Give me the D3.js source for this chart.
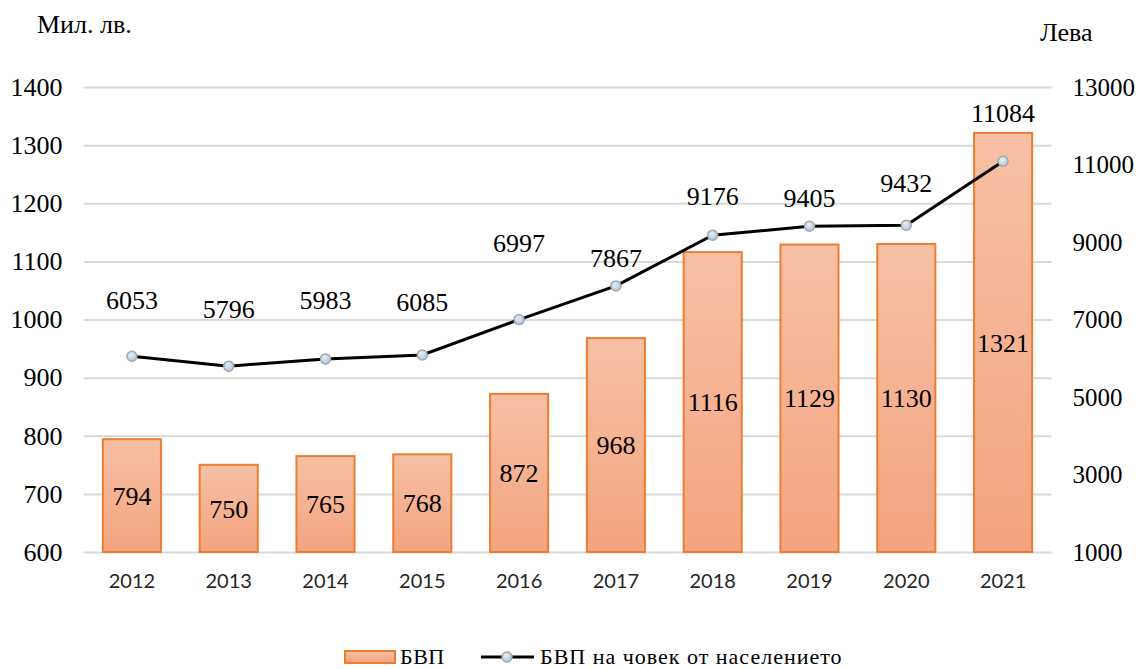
<!DOCTYPE html>
<html>
<head>
<meta charset="utf-8">
<script src="https://cdn.jsdelivr.net/npm/d3@7"></script>
<style>
  body { margin: 0; background: #fff; }
  svg { display: block; }
</style>
</head>
<body>
<div id="chart"></div>
<script>
const years = ["2012", "2013", "2014", "2015", "2016", "2017", "2018", "2019", "2020", "2021"];
const gdp = [794, 750, 765, 768, 872, 968, 1116, 1129, 1130, 1321];
const gdpPerCapita = [6053, 5796, 5983, 6085, 6997, 7867, 9176, 9405, 9432, 11084];
const leftTicks = [600, 700, 800, 900, 1000, 1100, 1200, 1300, 1400];
const rightTicks = [1000, 3000, 5000, 7000, 9000, 11000, 13000];
// manual lift of the line labels, like in the original
const labelLift = [56, 57, 59, 53, 77, 28, 39, 28, 42, 48];

const W = 1145, H = 669;
const plotL = 83.5, plotR = 1051.5, plotT = 87, plotB = 552;
const serif = "'Liberation Serif', 'Times New Roman', serif";

const svg = d3.select("#chart").append("svg")
    .attr("width", W)
    .attr("height", H);

const defs = svg.append("defs");
const grad = defs.append("linearGradient")
    .attr("id", "barGrad")
    .attr("x1", 0).attr("y1", 0).attr("x2", 0).attr("y2", 1);
grad.append("stop").attr("offset", "0%").attr("stop-color", "#f7c0a4");
grad.append("stop").attr("offset", "100%").attr("stop-color", "#f4a47f");

const dot = defs.append("radialGradient")
    .attr("id", "dotGrad")
    .attr("cx", "40%").attr("cy", "35%").attr("r", "70%");
dot.append("stop").attr("offset", "0%").attr("stop-color", "#e4eef8");
dot.append("stop").attr("offset", "100%").attr("stop-color", "#a9c6e4");

const x = d3.scaleBand()
    .domain(years)
    .range([plotL, plotR])
    .paddingInner(0.4)
    .paddingOuter(0.2);

const yL = d3.scaleLinear().domain([600, 1400]).range([plotB, plotT]);
const yR = d3.scaleLinear().domain([1000, 13000]).range([plotB, plotT]);

// left axis + gridlines
const gl = svg.append("g")
    .attr("transform", "translate(" + plotL + ",0)")
    .call(d3.axisLeft(yL).tickValues(leftTicks).tickSize(-(plotR - plotL)).tickPadding(21).tickFormat(d3.format("d")));
gl.select(".domain").remove();
gl.selectAll("line").attr("stroke", "#d9d9d9").attr("stroke-width", 2);
gl.selectAll("text")
    .attr("fill", "#000")
    .style("font-family", serif)
    .style("font-size", "26px");

// right axis
const gr = svg.append("g")
    .attr("transform", "translate(" + plotR + ",0)")
    .call(d3.axisRight(yR).tickValues(rightTicks).tickSize(0).tickPadding(21).tickFormat(d3.format("d")));
gr.select(".domain").remove();
gr.selectAll("text")
    .attr("fill", "#000")
    .style("font-family", serif)
    .style("font-size", "25px");

// x axis
const gx = svg.append("g")
    .attr("transform", "translate(0," + plotB + ")")
    .call(d3.axisBottom(x).tickSize(0).tickPadding(22));
gx.select(".domain").remove();
gx.selectAll("text")
    .attr("fill", "#262626")
    .style("font-family", "Lato, 'Open Sans', sans-serif")
    .style("font-size", "20px");

// bars
svg.selectAll("rect.bar")
    .data(gdp)
    .enter()
    .append("rect")
    .attr("class", "bar")
    .attr("x", function(d, i) { return x(years[i]) })
    .attr("y", function(d) { return yL(d) })
    .attr("width", x.bandwidth())
    .attr("height", function(d) { return plotB - yL(d) })
    .attr("fill", "url(#barGrad)")
    .attr("stroke", "#ed7d31")
    .attr("stroke-width", 2);

svg.selectAll("text.barLabel")
    .data(gdp)
    .enter()
    .append("text")
    .attr("class", "barLabel")
    .attr("x", function(d, i) { return x(years[i]) + x.bandwidth() / 2 })
    .attr("y", function(d) { return (yL(d) + plotB) / 2 })
    .attr("dy", "0.35em")
    .attr("text-anchor", "middle")
    .style("font-family", serif)
    .style("font-size", "26px")
    .text(function(d) { return d });

// line
const line = d3.line()
    .x(function(d, i) { return x(years[i]) + x.bandwidth() / 2 })
    .y(function(d) { return yR(d) });

svg.append("path")
    .datum(gdpPerCapita)
    .attr("d", line)
    .attr("fill", "none")
    .attr("stroke", "#000")
    .attr("stroke-width", 3);

svg.selectAll("circle.pt")
    .data(gdpPerCapita)
    .enter()
    .append("circle")
    .attr("class", "pt")
    .attr("cx", function(d, i) { return x(years[i]) + x.bandwidth() / 2 })
    .attr("cy", function(d) { return yR(d) })
    .attr("r", 5)
    .attr("fill", "url(#dotGrad)")
    .attr("stroke", "#a6a6a6")
    .attr("stroke-width", 1.5);

svg.selectAll("text.lineLabel")
    .data(gdpPerCapita)
    .enter()
    .append("text")
    .attr("class", "lineLabel")
    .attr("x", function(d, i) { return x(years[i]) + x.bandwidth() / 2 })
    .attr("y", function(d, i) { return yR(d) - labelLift[i] })
    .attr("dy", "0.35em")
    .attr("text-anchor", "middle")
    .style("font-family", serif)
    .style("font-size", "26px")
    .text(function(d) { return d });

// axis titles
svg.append("text")
    .attr("x", 37).attr("y", 33)
    .style("font-family", serif)
    .style("font-size", "26px")
    .text("Мил. лв.");

svg.append("text")
    .attr("x", 1040).attr("y", 41)
    .style("font-family", serif)
    .style("font-size", "26px")
    .text("Лева");

// legend
const lg = svg.append("g");
lg.append("rect")
    .attr("x", 345).attr("y", 651)
    .attr("width", 50).attr("height", 12)
    .attr("fill", "url(#barGrad)")
    .attr("stroke", "#ed7d31")
    .attr("stroke-width", 2);
lg.append("text")
    .attr("x", 400).attr("y", 664)
    .style("font-family", serif)
    .style("font-size", "22px")
    .style("letter-spacing", "0.5px")
    .text("БВП");
lg.append("line")
    .attr("x1", 481).attr("x2", 534)
    .attr("y1", 657).attr("y2", 657)
    .attr("stroke", "#000").attr("stroke-width", 3);
lg.append("circle")
    .attr("cx", 507).attr("cy", 657).attr("r", 5)
    .attr("fill", "url(#dotGrad)")
    .attr("stroke", "#a6a6a6")
    .attr("stroke-width", 1.5);
lg.append("text")
    .attr("x", 540).attr("y", 664)
    .style("font-family", serif)
    .style("font-size", "22px")
    .style("letter-spacing", "1px")
    .text("БВП на човек от населението");
</script>
</body>
</html>
